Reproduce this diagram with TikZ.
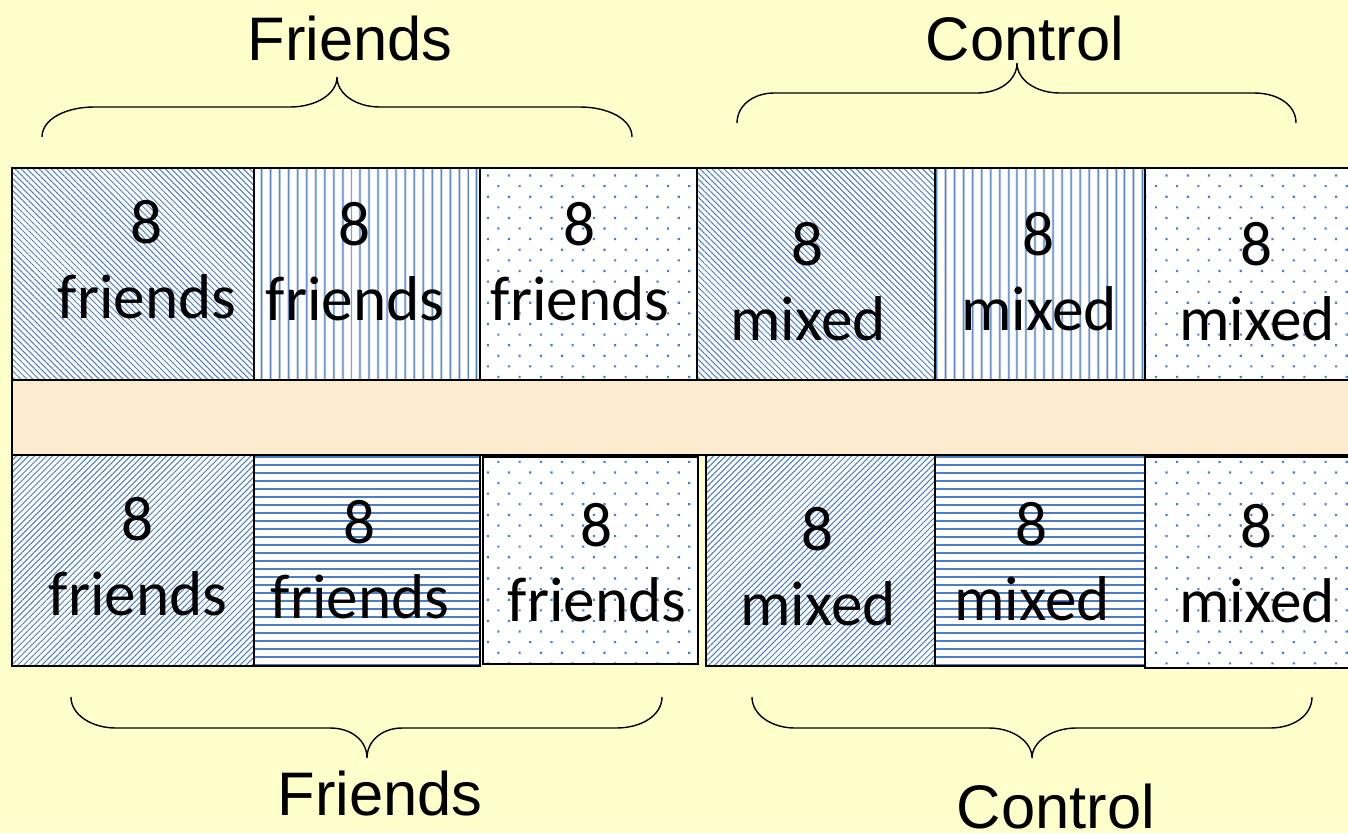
\documentclass[tikz,border=0pt]{standalone}
\usepackage{fontspec}
\setmainfont{Carlito}
\newfontfamily\labelfont{Liberation Sans}
\usetikzlibrary{patterns.meta}
\definecolor{paper}{HTML}{FFFFCC}
\definecolor{band}{HTML}{FCEBCF}
\definecolor{stripe}{HTML}{4A7EC7}
\tikzset{%
	cell/.style      = {draw, line width=0.9pt, preaction={fill=white}, pattern color=stripe},
	backslash/.style = {cell, pattern={Lines[angle=-45, distance=0.085cm, line width=0.02cm]}},
	slash/.style     = {cell, pattern={Lines[angle=45, distance=0.085cm, line width=0.02cm]}},
	vlines/.style    = {cell, pattern={Lines[angle=90, distance=0.18cm, line width=0.035cm]}},
	hlines/.style    = {cell, pattern={Lines[angle=0, distance=0.16cm, line width=0.035cm]}},
	spots/.style     = {cell, pattern={Dots[angle=45, distance=0.3cm, radius=0.03cm]}},
	count/.style     = {inner sep=0pt, align=center, font=\fontsize{36}{42.7}\selectfont},
	group/.style     = {inner sep=0pt, anchor=base, font=\labelfont\fontsize{35}{42}\selectfont},
	brace/.style     = {draw, line width=0.8pt} % curly brackets
}

\begin{document}
\begin{tikzpicture}[x=0.02cm, y=-0.02cm]
	\useasboundingbox (0,0) rectangle (1348,833);
	\clip (0,0) rectangle (1348,833);
	\fill[paper] (0,0) rectangle (1348,833);

	% middle band
	\draw[line width=0.9pt, fill=band] (12,380) rectangle (1360,455);

	% upper row
	\draw[backslash] (12,168) rectangle (254,380);
	\draw[vlines] (254,168) rectangle (480,380);
	\draw[spots] (480,168) rectangle (697,380);
	\draw[backslash] (697,168) rectangle (935,380);
	\draw[vlines] (935,168) rectangle (1145,380);
	\draw[spots] (1145,168) rectangle (1360,380);

	% lower row
	\draw[slash] (12,455) rectangle (254,666);
	\draw[hlines] (254,455) rectangle (480,666);
	\draw[spots] (483,457) rectangle (698,664);
	\draw[slash] (706,455) rectangle (935,666);
	\draw[hlines] (935,455) rectangle (1145,666);
	\draw[spots] (1145,457) rectangle (1360,668);

	\node[count] (tf1) at (147,260) {8\\friends};
	\node[count] (tf2) at (355,262) {8\\friends};
	\node[count] (tf3) at (580,262) {8\\friends};
	\node[count] (tm1) at (808,282) {8\\mixed};
	\node[count] (tm2) at (1039,272) {8\\mixed};
	\node[count] (tm3) at (1257,282) {8\\mixed};

	\node[count] (bf1) at (138,557) {8\\friends};
	\node[count] (bf2) at (360,560) {8\\friends};
	\node[count] (bf3) at (597,563) {8\\friends};
	\node[count] (bm1) at (818,567) {8\\mixed};
	\node[count] (bm2) at (1032,562) {8\\mixed};
	\node[count] (bm3) at (1257,564) {8\\mixed};

	\node[group] (topfriends) at (350,60) {Friends};
	\node[group] (topcontrol) at (1025,60) {Control};
	\node[group] (lowfriends) at (380,815) {Friends};
	\node[group] (lowcontrol) at (1056,828) {Control};

	\draw[brace] (42,137) .. controls (42,119) and (66,107) .. (94,107) -- (290,107)
		.. controls (316,107) and (337,94) .. (337,77) .. controls (337,94) and (356,107) .. (380,107)
		-- (580,107) .. controls (608,107) and (632,119) .. (632,137);
	\draw[brace] (737,123) .. controls (737,105) and (754,93) .. (774,93) -- (977,93)
		.. controls (1000,93) and (1017,80) .. (1017,63) .. controls (1017,80) and (1036,93) .. (1060,93)
		-- (1254,93) .. controls (1278,93) and (1296,105) .. (1296,123);
	\draw[brace] (71,697) .. controls (71,715) and (92,728) .. (116,728) -- (330,728)
		.. controls (352,728) and (367,741) .. (367,758) .. controls (367,741) and (382,728) .. (402,728)
		-- (616,728) .. controls (642,728) and (662,715) .. (662,697);
	\draw[brace] (752,697) .. controls (752,715) and (772,728) .. (795,728) -- (989,728)
		.. controls (1012,728) and (1032,741) .. (1032,758) .. controls (1032,741) and (1053,728) .. (1076,728)
		-- (1270,728) .. controls (1294,728) and (1312,715) .. (1312,697);
\end{tikzpicture}
\end{document}
